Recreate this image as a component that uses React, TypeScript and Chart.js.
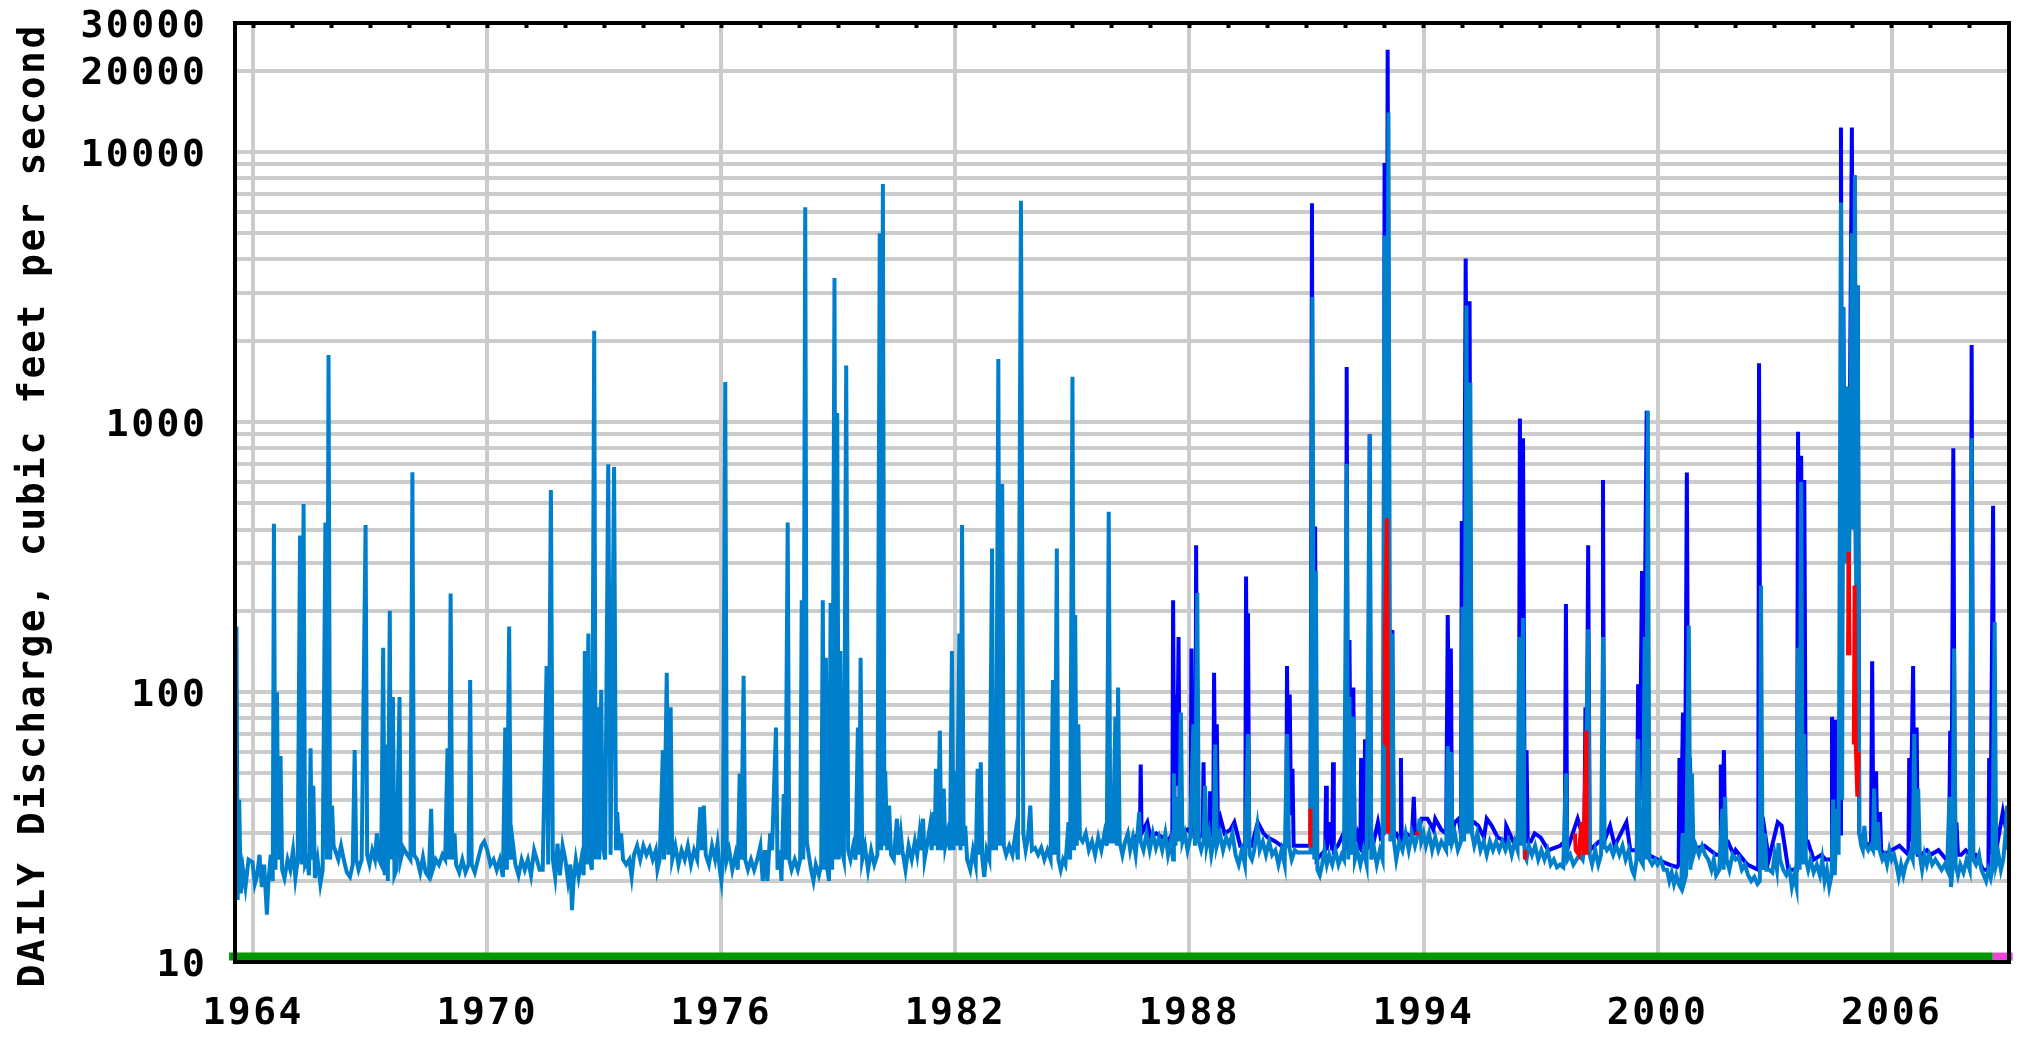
import { useEffect, useRef } from 'react';
import { Chart, registerables } from 'chart.js';

Chart.register(...registerables);

type P = [number, number];

// ---- axis ticks ----
const xTickYears = [1964, 1970, 1976, 1982, 1988, 1994, 2000, 2006];
const yearMarks = [1964, 1965, 1966, 1967, 1968, 1969, 1970, 1971, 1972, 1973, 1974, 1975, 1976, 1977, 1978, 1979, 1980, 1981, 1982, 1983, 1984, 1985, 1986, 1987, 1988, 1989, 1990, 1991, 1992, 1993, 1994, 1995, 1996, 1997, 1998, 1999, 2000, 2001, 2002, 2003, 2004, 2005, 2006, 2007, 2008];
const yGridValues = [10, 20, 30, 40, 50, 60, 70, 80, 90, 100, 200, 300, 400, 500, 600, 700, 800, 900, 1000, 2000, 3000, 4000, 5000, 6000, 7000, 8000, 9000, 10000, 20000, 30000];
const yLabelValues = [10, 100, 1000, 10000, 20000, 30000];
const yTitle = 'DAILY Discharge, cubic feet per second ';

// ---- approval status bar ----
const approvedSpan: number[] = [1963.38, 2008.59];
const provisionalSpan: number[] = [2008.59, 2009.1];
const statusLevel = 10.5;

// ---- daily discharge (light blue) ----
const light1964: P[] = [[1963.55,24],[1963.57,175],[1963.60,17],[1963.64,40],[1963.68,18],[1963.74,22],[1963.80,19],[1963.88,24],[1963.98,23.5],[1964.04,19.5],[1964.10,21],[1964.16,25],[1964.22,19],[1964.28,23],[1964.35,15],[1964.39,20],[1964.45,25],[1964.50,20],[1964.53,420],[1964.57,22],[1964.61,100],[1964.64,24],[1964.70,58],[1964.74,22],[1964.80,20.5],[1964.88,24],[1964.95,22],[1965.02,26],[1965.08,20.5],[1965.14,24],[1965.20,380],[1965.24,23],[1965.29,497],[1965.33,23],[1965.38,24],[1965.43,21],[1965.47,62],[1965.50,24],[1965.54,45],[1965.58,20.5],[1965.65,24],[1965.72,19.5],[1965.78,22],[1965.85,425],[1965.89,24],[1965.93,1770],[1965.97,24],[1966.02,38],[1966.06,27],[1966.12,25.5],[1966.18,24],[1966.25,27],[1966.32,24],[1966.40,21.5],[1966.48,20.7],[1966.55,23],[1966.60,61],[1966.64,24],[1966.70,22],[1966.78,24],[1966.88,416],[1966.92,25],[1966.98,23],[1967.05,26],[1967.12,24],[1967.17,30],[1967.22,24],[1967.28,23],[1967.33,146],[1967.37,21],[1967.42,64],[1967.45,20],[1967.50,200],[1967.53,24],[1967.58,96],[1967.62,21],[1967.67,22],[1967.75,96],[1967.78,24],[1967.85,26.5],[1967.95,25],[1968.03,24],[1968.08,652],[1968.12,25],[1968.20,24],[1968.28,21.5],[1968.35,24.5],[1968.42,21.5],[1968.50,20.7],[1968.56,37],[1968.60,22],[1968.68,24],[1968.76,23],[1968.85,25],[1968.92,24],[1968.98,62],[1969.02,24],[1969.06,232],[1969.10,24],[1969.16,30],[1969.20,23],[1969.28,21.5],[1969.36,24],[1969.44,21.5],[1969.52,23],[1969.56,111],[1969.60,23],[1969.68,21.5],[1969.76,24],[1969.85,27],[1969.92,28],[1970.00,26]];
const light1970: P[] = [[1970.08,23],[1970.16,24],[1970.24,22],[1970.32,24],[1970.40,20.7],[1970.46,74],[1970.50,22],[1970.56,175],[1970.60,24],[1970.65,28],[1970.72,23],[1970.80,21],[1970.88,24],[1970.96,22],[1971.04,24],[1971.12,21],[1971.20,26],[1971.27,24],[1971.34,22],[1971.42,22],[1971.52,125],[1971.56,23],[1971.63,560],[1971.68,24],[1971.74,20.7],[1971.80,27.5],[1971.86,21],[1971.93,27],[1972.00,24],[1972.07,20],[1972.13,23],[1972.17,15.6],[1972.21,20],[1972.27,24],[1972.34,20.7],[1972.41,24],[1972.47,21],[1972.50,142],[1972.54,23],[1972.59,165],[1972.63,24],[1972.68,22],[1972.74,2178],[1972.78,24],[1972.83,88],[1972.87,24],[1972.92,102],[1972.96,27],[1973.02,24],[1973.10,697],[1973.16,25],[1973.25,681],[1973.30,26],[1973.33,36],[1973.38,26],[1973.43,30],[1973.48,24],[1973.56,23],[1973.64,24],[1973.70,20.7],[1973.76,25],[1973.84,27],[1973.92,24],[1974.00,27],[1974.08,25],[1974.16,26.5],[1974.24,24],[1974.32,26],[1974.36,22],[1974.42,24],[1974.50,61],[1974.53,24],[1974.60,118],[1974.64,25],[1974.70,88],[1974.74,24],[1974.82,27],[1974.90,23],[1974.98,26],[1975.06,24],[1975.14,27],[1975.22,23],[1975.30,26],[1975.38,24],[1975.46,37.5],[1975.50,26],[1975.55,38],[1975.60,25],[1975.68,23],[1975.76,27],[1975.84,24],[1975.90,27.5],[1975.96,22],[1976.00,20]];
const light1976: P[] = [[1976.04,24],[1976.10,1406],[1976.14,24],[1976.20,26],[1976.28,22],[1976.36,25],[1976.42,22],[1976.47,50],[1976.51,24],[1976.57,115],[1976.61,24],[1976.68,22],[1976.76,24],[1976.84,22],[1976.92,24],[1977.00,27],[1977.06,20],[1977.12,26],[1977.18,20],[1977.25,30],[1977.30,26],[1977.40,74],[1977.44,22],[1977.50,26],[1977.54,20],[1977.60,42],[1977.64,24],[1977.70,425],[1977.74,24],[1977.80,22],[1977.88,24],[1977.96,22],[1978.02,24],[1978.06,219],[1978.10,24],[1978.15,6240],[1978.19,28],[1978.24,25],[1978.30,22],[1978.36,20],[1978.42,23],[1978.50,21],[1978.56,23],[1978.60,219],[1978.64,22],[1978.68,134],[1978.72,22],[1978.76,20],[1978.80,214],[1978.84,22],[1978.90,3410],[1978.94,24],[1978.97,1080],[1979.01,24],[1979.05,142],[1979.09,26],[1979.14,24],[1979.20,1620],[1979.25,26],[1979.31,24],[1979.38,27],[1979.44,24],[1979.50,74],[1979.53,25],[1979.57,134],[1979.61,24],[1979.68,27],[1979.76,22],[1979.84,26],[1979.92,23],[1980.00,25],[1980.06,5000],[1980.10,26],[1980.14,7600],[1980.18,27],[1980.20,51],[1980.25,26],[1980.30,38],[1980.35,25],[1980.42,24],[1980.50,34],[1980.54,25],[1980.60,30],[1980.64,26],[1980.72,22],[1980.80,27],[1980.88,24],[1980.96,28],[1981.02,25],[1981.08,30],[1981.12,26],[1981.17,34],[1981.21,24],[1981.27,27],[1981.35,32],[1981.39,26],[1981.44,36],[1981.47,27],[1981.50,52],[1981.55,26],[1981.60,72],[1981.64,26],[1981.70,44],[1981.74,27],[1981.80,30],[1981.86,26],[1981.91,142],[1981.95,26],[1982.00,51]];
const light1982: P[] = [[1982.04,27],[1982.10,165],[1982.13,26],[1982.17,416],[1982.21,27],[1982.25,32],[1982.30,24],[1982.38,22],[1982.45,26],[1982.52,23],[1982.57,52],[1982.61,25],[1982.65,55],[1982.69,24],[1982.74,20.7],[1982.80,26],[1982.87,24],[1982.94,340],[1982.97,26],[1983.00,81],[1983.04,26],[1983.10,1710],[1983.14,27],[1983.20,590],[1983.24,27],[1983.30,25],[1983.38,27],[1983.46,25],[1983.54,30],[1983.60,24],[1983.68,6590],[1983.74,30],[1983.80,26],[1983.86,29],[1983.92,38],[1983.96,26],[1984.04,26.5],[1984.12,25],[1984.20,26.5],[1984.28,24],[1984.36,26],[1984.44,24],[1984.50,111],[1984.54,25],[1984.60,340],[1984.64,24],[1984.70,22],[1984.76,24],[1984.82,23],[1984.90,33],[1984.94,24],[1985.00,1470],[1985.04,26],[1985.07,193],[1985.11,27],[1985.15,76],[1985.19,29],[1985.26,28],[1985.34,30],[1985.42,26],[1985.50,28],[1985.58,25],[1985.66,29],[1985.74,26],[1985.82,30],[1985.88,27],[1985.93,465],[1985.97,28],[1986.04,28],[1986.10,81],[1986.14,27],[1986.17,104],[1986.21,28],[1986.28,25],[1986.35,28],[1986.42,30],[1986.48,26],[1986.55,29],[1986.62,25],[1986.67,30],[1986.71,36],[1986.75,28],[1986.82,26],[1986.90,30],[1986.98,26],[1987.06,30],[1987.14,26.5],[1987.22,29],[1987.30,26],[1987.38,30],[1987.45,25],[1987.52,28],[1987.58,24],[1987.60,50],[1987.64,27],[1987.70,41],[1987.74,28],[1987.78,84],[1987.82,28],[1987.88,30],[1987.95,26]];
const light1988: P[] = [[1988.02,29],[1988.10,76],[1988.14,27],[1988.20,233],[1988.24,28],[1988.30,26],[1988.36,28],[1988.40,45],[1988.44,27],[1988.50,30],[1988.56,25],[1988.62,28],[1988.66,64],[1988.70,27],[1988.78,30],[1988.86,26],[1988.94,29],[1989.02,27],[1989.10,30],[1989.18,25],[1989.26,23],[1989.34,26],[1989.42,23],[1989.50,70],[1989.54,25],[1989.60,24],[1989.66,26],[1989.74,32],[1989.80,26],[1989.88,28],[1989.96,25],[1990.04,28],[1990.12,25],[1990.20,26],[1990.28,23],[1990.36,26],[1990.44,23],[1990.50,70],[1990.55,27],[1990.62,24],[1990.70,26],[1990.77,25.5],[1991.10,25.5],[1991.15,2900],[1991.20,24],[1991.24,281],[1991.28,22],[1991.34,21],[1991.40,23],[1991.46,26],[1991.52,23],[1991.58,25],[1991.66,23],[1991.74,26],[1991.82,23],[1991.90,25],[1991.96,24],[1992.03,700],[1992.07,24],[1992.10,96],[1992.14,25],[1992.20,81],[1992.24,24],[1992.30,26],[1992.38,23],[1992.46,26],[1992.54,23],[1992.62,900],[1992.66,24],[1992.72,27],[1992.80,23],[1992.88,26],[1992.95,24],[1993.00,4900],[1993.05,30],[1993.10,14000],[1993.15,28],[1993.20,165],[1993.24,28],[1993.30,24],[1993.38,28],[1993.46,26],[1993.54,30],[1993.62,26],[1993.70,30],[1993.78,27],[1993.86,30],[1993.90,34],[1993.94,28],[1994.00,30]];
const light1994: P[] = [[1994.06,27],[1994.14,30],[1994.22,26],[1994.30,29],[1994.38,26],[1994.46,28],[1994.52,27],[1994.58,26],[1994.62,63],[1994.66,27],[1994.70,60],[1994.74,28],[1994.80,30],[1994.88,26],[1994.96,28],[1995.00,207],[1995.04,28],[1995.10,2700],[1995.14,30],[1995.20,1400],[1995.24,30],[1995.30,27],[1995.38,30],[1995.46,26],[1995.54,28],[1995.62,25],[1995.70,28],[1995.78,26],[1995.86,28],[1995.94,26],[1996.02,28],[1996.10,26],[1996.18,28],[1996.26,25],[1996.34,28],[1996.41,26],[1996.45,160],[1996.50,27],[1996.55,188],[1996.59,25],[1996.64,24],[1996.70,27],[1996.78,25],[1996.86,27],[1996.94,24],[1997.02,26],[1997.10,24],[1997.18,26],[1997.26,23],[1997.34,24],[1997.42,22.5],[1997.50,23],[1997.58,22.5],[1997.65,50],[1997.69,24],[1997.76,25],[1997.84,23],[1997.92,24],[1998.00,25],[1998.08,24],[1998.14,28],[1998.22,171],[1998.26,25],[1998.32,23],[1998.40,26],[1998.48,23],[1998.55,25],[1998.60,160],[1998.64,27],[1998.70,26],[1998.78,27],[1998.86,25],[1998.94,27],[1999.02,25],[1999.10,27],[1999.18,24],[1999.26,26],[1999.34,22],[1999.40,21],[1999.46,24],[1999.50,67],[1999.55,24],[1999.62,23],[1999.67,160],[1999.71,24],[1999.75,1100],[1999.79,24],[1999.86,23],[1999.94,24],[2000.00,23]];
const light2000: P[] = [[2000.08,24],[2000.16,22],[2000.24,22],[2000.30,20],[2000.36,21.5],[2000.42,19.5],[2000.48,21],[2000.54,19.5],[2000.60,18.8],[2000.65,30],[2000.69,20],[2000.73,21],[2000.80,176],[2000.84,22],[2000.88,50],[2000.92,25],[2000.98,27],[2001.06,25],[2001.14,27],[2001.22,25],[2001.30,24],[2001.38,22],[2001.44,24],[2001.50,21],[2001.58,22],[2001.66,37],[2001.69,22],[2001.73,41],[2001.77,24],[2001.84,22],[2001.92,25],[2002.00,24],[2002.08,24.5],[2002.16,22],[2002.24,23],[2002.32,21],[2002.40,20],[2002.48,20.7],[2002.56,19.5],[2002.62,20],[2002.65,248],[2002.69,22],[2002.75,30],[2002.79,22],[2002.86,22],[2002.94,21.5],[2003.00,25],[2003.06,22],[2003.10,27.6],[2003.14,24],[2003.22,22],[2003.30,21],[2003.38,22],[2003.44,19],[2003.50,21],[2003.56,19],[2003.60,146],[2003.64,22],[2003.68,600],[2003.72,23],[2003.76,70],[2003.80,24],[2003.86,22],[2003.92,24],[2004.00,21.5],[2004.08,23],[2004.16,21],[2004.22,24],[2004.28,20],[2004.34,22],[2004.40,19],[2004.46,21],[2004.50,40],[2004.54,21],[2004.60,37],[2004.64,25],[2004.70,6500],[2004.73,40],[2004.76,2660],[2004.80,300],[2004.86,1350],[2004.90,200],[2004.98,5000],[2005.02,400],[2005.06,8200],[2005.10,60],[2005.13,3200],[2005.17,30],[2005.22,27],[2005.26,26],[2005.30,32],[2005.34,27],[2005.40,26],[2005.46,27],[2005.52,26],[2005.55,44],[2005.59,26],[2005.65,33],[2005.69,26],[2005.76,24],[2005.82,25],[2005.88,23],[2005.94,26],[2006.00,24]];
const light2006: P[] = [[2006.06,25],[2006.12,23],[2006.18,20.7],[2006.24,23],[2006.30,21],[2006.36,23],[2006.42,24],[2006.48,25.5],[2006.54,24],[2006.58,70],[2006.62,25],[2006.68,44],[2006.72,25],[2006.78,22],[2006.84,25],[2006.90,23],[2006.96,25],[2007.04,23],[2007.12,24],[2007.20,23],[2007.28,22],[2007.36,23],[2007.42,22],[2007.48,41],[2007.52,19],[2007.56,22],[2007.60,145],[2007.64,23],[2007.70,21],[2007.76,23],[2007.84,21.5],[2007.92,24],[2008.00,22],[2008.05,870],[2008.09,24],[2008.16,23],[2008.24,25],[2008.30,22],[2008.36,21],[2008.42,20],[2008.48,22],[2008.54,20.5],[2008.58,22],[2008.64,182],[2008.68,23],[2008.74,25],[2008.80,22],[2008.86,24],[2008.92,30],[2008.96,38],[2008.99,26]];

// ---- second series (dark blue), drawn beneath ----
const dark1986: P[] = [[1986.60,29],[1986.73,30],[1986.75,54],[1986.77,30],[1986.92,33],[1987.00,29],[1987.15,30],[1987.30,29],[1987.45,28],[1987.56,30],[1987.58,219],[1987.61,40],[1987.65,98],[1987.68,45],[1987.72,160],[1987.75,30],[1987.95,31],[1988.03,30],[1988.05,145],[1988.08,32],[1988.15,30],[1988.17,350],[1988.20,30],[1988.25,29],[1988.34,30],[1988.36,55],[1988.38,30],[1988.45,30],[1988.51,30],[1988.53,43],[1988.56,30],[1988.61,31],[1988.63,118],[1988.66,40],[1988.70,76],[1988.73,30],[1988.80,34],[1988.90,30],[1989.05,31],[1989.15,33],[1989.30,27],[1989.43,27],[1989.45,268],[1989.48,40],[1989.50,196],[1989.53,27],[1989.60,27],[1989.75,33],[1989.90,30],[1990.00,29],[1990.20,28],[1990.35,27],[1990.48,27],[1990.50,125],[1990.53,40],[1990.57,98],[1990.60,35],[1990.64,52],[1990.67,27],[1990.80,27],[1991.10,27],[1991.14,6450],[1991.17,30],[1991.22,410],[1991.26,24],[1991.48,26],[1991.50,45],[1991.52,26],[1991.58,33],[1991.66,26],[1991.68,55],[1991.70,26],[1991.80,27],[1991.95,30],[1992.01,28],[1992.03,1600],[1992.06,35],[1992.10,156],[1992.14,30],[1992.20,104],[1992.23,28],[1992.30,30],[1992.38,26],[1992.40,57],[1992.42,26],[1992.48,26],[1992.50,67],[1992.52,26],[1992.60,27],[1992.62,900],[1992.65,27],[1992.70,27],[1992.83,33],[1992.90,29],[1992.98,30],[1993.00,9100],[1993.04,60],[1993.08,23900],[1993.13,40],[1993.20,170],[1993.23,30],[1993.30,30],[1993.40,28],[1993.42,57],[1993.44,28],[1993.55,30],[1993.70,29],[1993.75,41],[1993.78,30],[1993.85,30],[1993.95,34],[1994.10,34],[1994.25,31]];
const dark1994: P[] = [[1994.30,34],[1994.45,31],[1994.58,30],[1994.62,193],[1994.66,50],[1994.70,145],[1994.73,30],[1994.80,33],[1994.90,34],[1994.96,30],[1994.98,430],[1995.02,60],[1995.08,4030],[1995.13,200],[1995.18,2800],[1995.22,33],[1995.30,33],[1995.40,32],[1995.55,29],[1995.62,34],[1995.75,32],[1995.90,29],[1996.10,28],[1996.12,32],[1996.30,28],[1996.44,28],[1996.47,1030],[1996.51,100],[1996.55,870],[1996.59,40],[1996.64,61],[1996.67,28],[1996.75,28],[1996.85,30],[1997.00,29],[1997.20,26],[1997.50,27],[1997.62,28],[1997.65,212],[1997.68,26],[1997.95,34],[1998.12,28],[1998.15,88],[1998.18,40],[1998.22,350],[1998.26,26],[1998.50,28],[1998.58,28],[1998.60,610],[1998.63,28],[1998.78,32],[1998.90,27],[1999.20,33],[1999.30,26],[1999.47,26],[1999.50,107],[1999.54,40],[1999.60,281],[1999.64,60],[1999.72,1100],[1999.76,25],[2000.00,24],[2000.30,23],[2000.50,22.5],[2000.54,23],[2000.56,57],[2000.60,30],[2000.65,84],[2000.70,30],[2000.75,650],[2000.79,30],[2000.83,57],[2000.86,26],[2001.20,27],[2001.50,25],[2001.60,25],[2001.62,54],[2001.66,30],[2001.70,61],[2001.73,28],[2001.80,28],[2001.95,25]];
const dark2002: P[] = [[2002.00,26],[2002.30,23],[2002.58,22],[2002.60,1650],[2002.64,34],[2002.70,34],[2002.85,24],[2003.08,33],[2003.18,32],[2003.35,22],[2003.57,22],[2003.60,920],[2003.64,100],[2003.68,750],[2003.72,60],[2003.76,610],[2003.80,28],[2003.85,28],[2004.00,24],[2004.20,25],[2004.30,24],[2004.45,24],[2004.47,81],[2004.50,30],[2004.55,79],[2004.58,30],[2004.68,30],[2004.70,12300],[2004.73,200],[2004.76,2660],[2004.80,300],[2004.86,1350],[2004.90,300],[2004.98,12300],[2005.01,500],[2005.04,8200],[2005.08,300],[2005.13,3200],[2005.17,30],[2005.25,28],[2005.47,27],[2005.50,130],[2005.53,30],[2005.60,51],[2005.63,28],[2005.70,36],[2005.73,26],[2005.80,25],[2006.00,26],[2006.20,27],[2006.43,25],[2006.45,57],[2006.48,28],[2006.55,125],[2006.58,30],[2006.64,74],[2006.67,25],[2006.75,25],[2006.90,26],[2007.00,25],[2007.20,26],[2007.40,24],[2007.47,24],[2007.50,72],[2007.53,25],[2007.58,800],[2007.62,28],[2007.66,33],[2007.70,25],[2007.78,25],[2007.90,26],[2008.02,25],[2008.05,1930],[2008.09,25],[2008.15,25],[2008.35,22],[2008.48,22],[2008.50,57],[2008.53,25],[2008.60,490],[2008.63,26],[2008.68,26],[2008.85,36],[2008.95,30]];

// ---- third series (red) segments ----
const red1991: P[] = [[1991.09,27],[1991.10,37]];
const red1993: P[] = [[1993.00,64],[1993.01,160],[1993.06,440],[1993.08,120],[1993.09,30]];
const red1993b: P[] = [[1993.83,29.5],[1993.84,30.5]];
const red1996: P[] = [[1996.60,24],[1996.61,26]];
const red1998: P[] = [[1997.88,30],[1997.90,26],[1997.98,25],[1998.05,33],[1998.10,25],[1998.17,72],[1998.18,25]];
const red2005a: P[] = [[2004.88,137],[2004.90,330],[2004.92,137]];
const red2005b: P[] = [[2005.03,64],[2005.05,248],[2005.08,64],[2005.12,41],[2005.15,60]];

const LIGHT = '#0080cc';
const DARK = '#0000ff';
const RED = '#ff0000';

const FONT = { family: '"DejaVu Sans Mono", monospace', size: 38, weight: 'bold' as const, lineHeight: 1.2 };
const X_MIN = 1963.54;
const X_MAX = 2009.0;

const toXY = (arr: P[]) => arr.map(([x, y]) => ({ x, y }));

const spacingPlugin = {
  id: 'spacing',
  beforeUpdate(c: any) { c.ctx.letterSpacing = '2.5px'; },
  beforeDraw(c: any) { c.ctx.letterSpacing = '2.5px'; },
};

const noPad = (s: any) => { s.paddingTop = 0; s.paddingBottom = 0; s.paddingLeft = 0; s.paddingRight = 0; };

export default function App() {
  const ref = useRef<HTMLCanvasElement | null>(null);

  useEffect(() => {
    if (!ref.current) return;
    const line = (data: P[], color: string, order: number) => ({
      data: toXY(data),
      borderColor: color,
      backgroundColor: color,
      borderWidth: 4,
      pointRadius: 0,
      fill: false,
      tension: 0,
      order,
      xAxisID: 'x',
      yAxisID: 'y',
    });
    const light = [...light1964, ...light1970, ...light1976, ...light1982, ...light1988, ...light1994, ...light2000, ...light2006];
    const dark = [...dark1986, ...dark1994, ...dark2002];
    const reds = [red1991, red1993, red1993b, red1996, red1998, red2005a, red2005b];

    const chart = new Chart(ref.current, {
      type: 'line',
      data: {
        datasets: [
          ...reds.map((r) => line(r, RED, 0)),
          line(light, LIGHT, 1),
          line(dark, DARK, 2),
          {
            ...line([[approvedSpan[0], statusLevel], [approvedSpan[1], statusLevel]], '#009900', 3),
            borderWidth: 8,
            clip: false as any,
          },
          {
            ...line([[provisionalSpan[0], statusLevel], [provisionalSpan[1], statusLevel]], '#ee44dd', 3),
            borderWidth: 8,
            clip: false as any,
          },
        ] as any,
      },
      plugins: [spacingPlugin as any],
      options: {
        responsive: false,
        devicePixelRatio: 1,
        animation: false,
        events: [],
        layout: { padding: { left: 0, top: 23, right: 19.3, bottom: 0 } },
        plugins: { legend: { display: false }, tooltip: { enabled: false } },
        scales: {
          x: {
            type: 'linear',
            position: 'bottom',
            min: X_MIN,
            max: X_MAX,
            afterBuildTicks: (s: any) => { s.ticks = xTickYears.map((v) => ({ value: v })); },
            afterFit: (s: any) => { s.height = 74.7; noPad(s); },
            grid: { color: '#cccccc', lineWidth: 4, drawTicks: false },
            border: { display: true, color: '#000000', width: 4, z: 1 },
            ticks: { font: FONT, color: '#000000', padding: 29, autoSkip: false, maxRotation: 0, callback: (v: any) => String(v) },
          },
          xTop: {
            type: 'linear',
            position: 'top',
            min: X_MIN,
            max: X_MAX,
            afterBuildTicks: (s: any) => { s.ticks = yearMarks.map((v) => ({ value: v })); },
            afterFit: (s: any) => { s.height = 0; noPad(s); },
            grid: { drawOnChartArea: false, drawTicks: true, tickLength: -5, tickColor: '#000000', tickWidth: 4 },
            border: { display: true, color: '#000000', width: 4, z: 1 },
            ticks: { display: false },
          },
          y: {
            type: 'logarithmic',
            position: 'left',
            min: 10,
            max: 30000,
            afterBuildTicks: (s: any) => { s.ticks = yGridValues.map((v) => ({ value: v })); },
            afterFit: (s: any) => { s.width = 235.3; noPad(s); },
            grid: { color: '#cccccc', lineWidth: 4, drawTicks: false },
            border: { display: true, color: '#000000', width: 4, z: 1 },
            ticks: {
              font: FONT,
              color: '#000000',
              padding: 28,
              labelOffset: 4,
              autoSkip: false,
              callback: (v: any) => (yLabelValues.includes(Number(v)) ? String(v) : ''),
            },
            title: { display: true, text: yTitle, font: FONT, color: '#000000', padding: { top: 11, bottom: 0 } },
          },
          yRight: {
            type: 'logarithmic',
            position: 'right',
            min: 10,
            max: 30000,
            afterFit: (s: any) => { s.width = 0; noPad(s); },
            grid: { drawOnChartArea: false, drawTicks: false },
            border: { display: true, color: '#000000', width: 4, z: 1 },
            ticks: { display: false },
          },
        },
      } as any,
    });
    return () => chart.destroy();
  }, []);

  return (
    <canvas
      ref={ref}
      width={2028}
      height={1037}
      style={{ position: 'absolute', left: 0, top: 0, width: 2028, height: 1037 }}
    />
  );
}
